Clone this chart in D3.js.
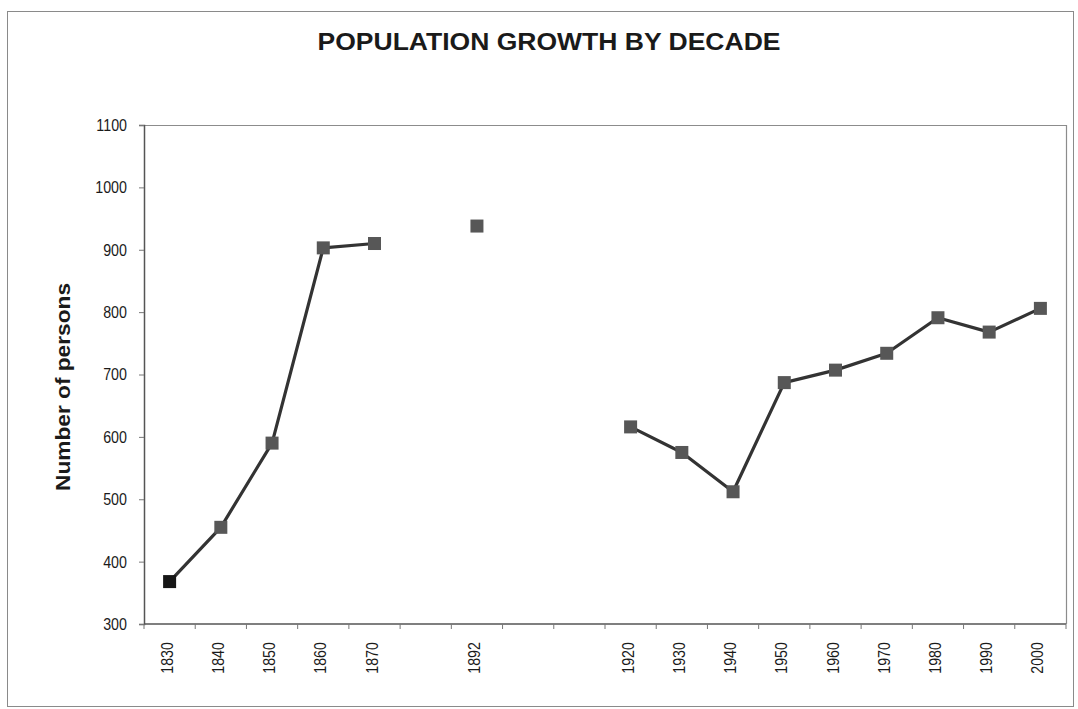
<!DOCTYPE html>
<html>
<head>
<meta charset="utf-8">
<script src="https://cdn.jsdelivr.net/npm/d3@7"></script>
<style>
  html, body { margin: 0; padding: 0; background: #fff; }
  svg { display: block; }
  text { font-family: "Liberation Sans", Arial, sans-serif; fill: #1a1a1a; }
</style>
</head>
<body>
<svg id="chart" width="1078" height="709"></svg>
<script>
// Decade slots along the category axis (every slot gets a band)
const decades = [1830, 1840, 1850, 1860, 1870, 1880, 1890, 1900, 1910,
                 1920, 1930, 1940, 1950, 1960, 1970, 1980, 1990, 2000];
// Label shown under each slot (blank where no census figure)
const decadeLabels = ["1830", "1840", "1850", "1860", "1870", "", "1892", "", "",
                      "1920", "1930", "1940", "1950", "1960", "1970", "1980", "1990", "2000"];
// Persons counted per slot; null = no figure
const persons = [368, 455, 590, 903, 910, null, 938, null, null,
                 616, 575, 512, 687, 707, 734, 791, 768, 806];
const yTicks = [300, 400, 500, 600, 700, 800, 900, 1000, 1100];

const svg = d3.select("#chart");
const plot = { left: 144, right: 1066, top: 125, bottom: 624 };
const tickFont = 17, squeeze = 0.84;

// outer chart frame
svg.append("rect")
  .attr("x", 7.5).attr("y", 11.5)
  .attr("width", 1066).attr("height", 695)
  .attr("fill", "none").attr("stroke", "#8a8a8a").attr("stroke-width", 1);

const x = d3.scaleBand()
  .domain(decades)
  .range([plot.left, plot.right])
  .paddingInner(0).paddingOuter(0);

const y = d3.scaleLinear()
  .domain([300, 1100])
  .range([plot.bottom, plot.top]);

// plot area top and right edges
svg.append("line")
  .attr("x1", plot.left).attr("x2", plot.right)
  .attr("y1", plot.top + 0.5).attr("y2", plot.top + 0.5)
  .attr("stroke", "#8c8c8c").attr("stroke-width", 1.2);
svg.append("line")
  .attr("x1", plot.right + 0.5).attr("x2", plot.right + 0.5)
  .attr("y1", plot.top).attr("y2", plot.bottom)
  .attr("stroke", "#8c8c8c").attr("stroke-width", 1.2);

// y axis
const yAxis = svg.append("g")
  .attr("transform", `translate(${plot.left},0)`)
  .call(d3.axisLeft(y).tickValues(yTicks).tickSize(5).tickPadding(9)
    .tickFormat(d3.format("d")));
yAxis.select(".domain").attr("stroke", "#555").attr("stroke-width", 1.5);
yAxis.selectAll(".tick line").attr("stroke", "#777");
yAxis.selectAll(".tick text")
  .style("font-size", tickFont + "px")
  .attr("fill", "#1a1a1a")
  .attr("transform", `scale(${squeeze},1)`)
  .attr("x", -17 / squeeze);

// x axis: ticks at band boundaries, labels at band centres
const xAxisG = svg.append("g").attr("transform", `translate(0,${plot.bottom})`);
xAxisG.append("line")
  .attr("x1", plot.left).attr("x2", plot.right)
  .attr("y1", 0).attr("y2", 0)
  .attr("stroke", "#555").attr("stroke-width", 1.5);
const boundaries = decades.map(d => x(d)).concat([x(decades[decades.length - 1]) + x.bandwidth()]);
xAxisG.selectAll("line.tk")
  .data(boundaries)
  .join("line")
  .attr("class", "tk")
  .attr("x1", d => d).attr("x2", d => d)
  .attr("y1", 0).attr("y2", 5)
  .attr("stroke", "#777");
xAxisG.selectAll("text.lbl")
  .data(decades)
  .join("text")
  .attr("class", "lbl")
  .attr("transform", d => `translate(${x(d) + x.bandwidth() / 2 + 3},18) rotate(-90) scale(${squeeze},1)`)
  .attr("text-anchor", "end")
  .style("font-size", tickFont + "px")
  .text((d, i) => decadeLabels[i]);

// series line, broken where figures are missing
const line = d3.line()
  .defined(d => d.v != null)
  .x(d => x(d.k) + x.bandwidth() / 2)
  .y(d => y(d.v));
const pts = decades.map((k, i) => ({ k, v: persons[i], i }));
svg.append("path")
  .datum(pts)
  .attr("d", line)
  .attr("fill", "none")
  .attr("stroke", "#333")
  .attr("stroke-width", 3.2)
  .attr("stroke-linejoin", "round");

// square markers
const ms = 13;
svg.selectAll("rect.mk")
  .data(pts.filter(d => d.v != null))
  .join("rect")
  .attr("class", "mk")
  .attr("x", d => x(d.k) + x.bandwidth() / 2 - ms / 2)
  .attr("y", d => y(d.v) - ms / 2)
  .attr("width", ms).attr("height", ms)
  .attr("fill", d => d.i === 0 ? "#161616" : "#575757");

// title
svg.append("text")
  .attr("x", 549).attr("y", 50)
  .attr("text-anchor", "middle")
  .attr("textLength", 463)
  .attr("lengthAdjust", "spacingAndGlyphs")
  .style("font-size", "24px")
  .style("font-weight", "bold")
  .text("POPULATION GROWTH BY DECADE");

// y axis title
svg.append("text")
  .attr("transform", "translate(70,387) rotate(-90)")
  .attr("text-anchor", "middle")
  .attr("textLength", 208)
  .attr("lengthAdjust", "spacingAndGlyphs")
  .style("font-size", "20px")
  .style("font-weight", "bold")
  .text("Number of persons");
</script>
</body>
</html>
